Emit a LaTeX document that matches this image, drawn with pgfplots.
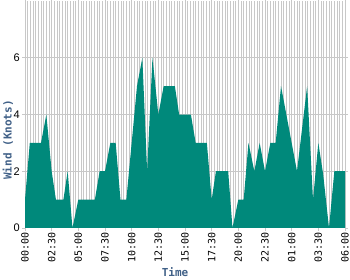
\documentclass[border=0pt]{standalone}
\usepackage{fontspec}
\setmainfont{Liberation Sans}
\newfontfamily\monofont{DejaVu Sans Mono}
\usepackage{pgfplots}
\pgfplotsset{compat=1.18}
\definecolor{teal1}{RGB}{0,137,123}
\definecolor{gridc}{RGB}{200,200,200}
\definecolor{labc}{RGB}{64,96,135}
\begin{document}
\begin{tikzpicture}
\begin{axis}[
  at={(0,0)}, anchor=south west,
  scale only axis, width=320pt, height=227pt,
  xmin=0, xmax=30, ymin=0, ymax=8,
  xtick={0,2.5,5,7.5,10,12.5,15,17.5,20,22.5,25,27.5,30},
  xticklabels={00:00,02:30,05:00,07:30,10:00,12:30,15:00,17:30,20:00,22:30,01:00,03:30,06:00},
  minor x tick num=9,
  ytick={0,2,4,6},
  xmajorgrids, xminorgrids, ymajorgrids,
  grid style={gridc, line width=1pt},
  minor grid style={gridc, line width=1pt},
  axis line style={draw=none},
  tick align=outside,
  major tick length=3pt, minor tick length=0pt,
  tick style={gridc, line width=0.8pt},
  xticklabel style={rotate=90, anchor=east, font=\monofont\fontsize{10}{10}\selectfont, inner sep=1.5pt},
  yticklabel style={font=\fontsize{11}{11}\selectfont, inner sep=2pt},
  /pgf/number format/assume math mode=true,
]
\addplot[fill=teal1, draw=none] coordinates {
(0,1) (0.45,3) (1.5,3) (2,4) (2.5,2) (2.9,1) (3.6,1) (4,2) (4.45,0) (5,1)
(6.55,1) (7,2) (7.5,2) (8,3) (8.5,3) (8.95,1) (9.5,1) (10,3) (10.5,5) (11,6)
(11.45,2) (11.95,6) (12.5,4) (13,5) (14.05,5) (14.45,4) (15.55,4) (16,3) (17.05,3) (17.5,1)
(17.9,2) (19.05,2) (19.45,0) (20,1) (20.5,1) (20.95,3) (21.5,2) (22,3) (22.5,2) (23,3)
(23.5,3) (24,5) (25.5,2) (26.45,5) (27,1) (27.5,3) (27.95,1.9) (28.5,0) (29,2) (30,2)
} \closedcycle;
\end{axis}
\node[rotate=90, text=labc, font=\monofont\bfseries\fontsize{11}{11}\selectfont] at (-17pt,88pt) {Wind (Knots)};
\node[text=labc, font=\monofont\bfseries\fontsize{11}{11}\selectfont] at (150pt,-44pt) {Time};
\pgfresetboundingbox
\path (-25pt,-52pt) rectangle (325pt,228pt);
\end{tikzpicture}
\end{document}
